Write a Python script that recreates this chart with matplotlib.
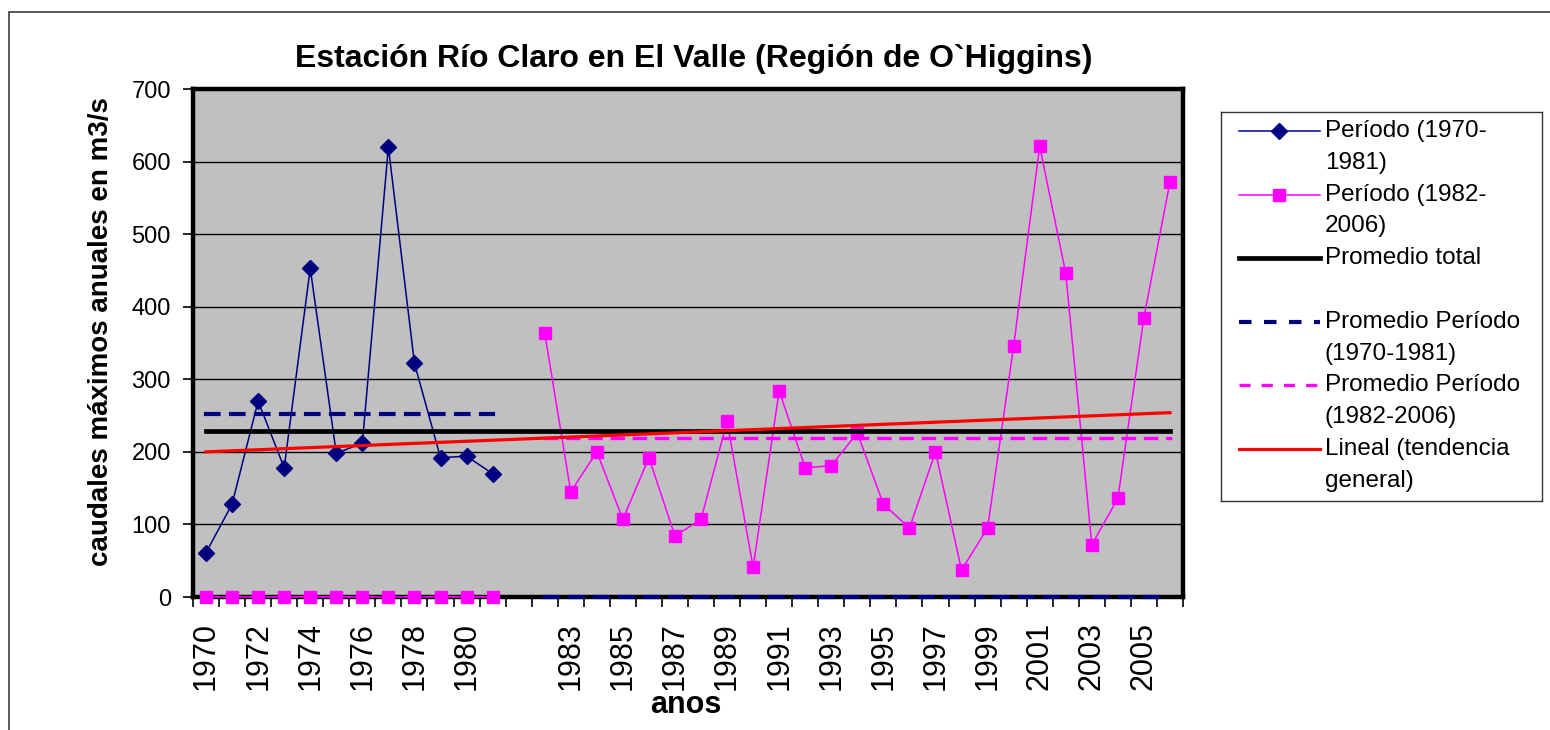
import numpy as np
import matplotlib.pyplot as plt
from matplotlib.lines import Line2D
from matplotlib.patches import Rectangle

plt.rcParams['font.family'] = ['Liberation Sans', 'DejaVu Sans']
plt.rcParams['lines.scale_dashes'] = False

# categorias del eje x (hay una celda vacia entre 1981 y 1982)
categorias = [str(a) for a in range(1970, 1982)] + [''] + [str(a) for a in range(1982, 2007)]

# caudales maximos anuales (m3/s)
periodo_1 = [61, 128, 270, 178, 453, 198, 212, 620, 322, 192, 194, 170]
periodo_2 = [364, 145, 200, 107, 192, 84, 107, 242, 41, 284, 178, 181, 226,
             128, 95, 200, 37, 95, 346, 621, 446, 72, 136, 385, 572]
# celdas vacias que excel dibuja como cero
periodo_2_antes = [0] * 12
promedio_1_despues = [0] * 25

prom_total = 229
prom_p1 = 252
prom_p2 = 219
tendencia = [200, 254]   # inicio y fin de la recta de tendencia lineal

n = len(categorias)
x = np.arange(n)
nan = np.nan

serie_1 = periodo_1 + [nan] * (n - len(periodo_1))
serie_2 = periodo_2_antes + [nan] + periodo_2
media_1 = [prom_p1] * len(periodo_1) + [nan] + promedio_1_despues
media_2 = periodo_2_antes + [nan] + [prom_p2] * len(periodo_2)
media_t = [prom_total] * n

W, H = 1550, 730
fig = plt.figure(figsize=(W / 100, H / 100), dpi=100)
fig.patch.set_facecolor('white')

ax = fig.add_axes([193 / W, 1 - 597 / H, (1183 - 193) / W, (597 - 89) / H])
ax.set_facecolor('#C0C0C0')

ax.plot(x, serie_1, color='#000080', lw=1.1, marker='D', ms=8, zorder=3, clip_on=False)
ax.plot(x, serie_2, color='#FF00FF', lw=1.1, marker='s', ms=8.5, zorder=3, clip_on=False)
ax.plot(x, media_t, color='black', lw=3.4, zorder=4, solid_capstyle='projecting')
ax.plot(x, media_1, color='#000080', lw=3, dashes=(9, 9), zorder=6, clip_on=False,
        dash_capstyle='projecting')
ax.plot(x, media_2, color='#FF00FF', lw=2.4, dashes=(8, 8), zorder=4,
        dash_capstyle='projecting')
ax.plot([x[0], x[-1]], tendencia, color='#FF0000', lw=2.3, zorder=5)

ax.set_xlim(-0.5, n - 0.5)
ax.set_ylim(0, 700)
ax.set_yticks(np.arange(0, 701, 100))
ax.yaxis.grid(True, color='black', lw=1.0)
ax.set_axisbelow(True)

# marcas entre categorias, etiquetas cada dos categorias
ax.set_xticks(np.arange(-0.5, n, 1))
ax.set_xticklabels([])
ax.set_xticks(x[::2], minor=True)
ax.set_xticklabels(categorias[::2], minor=True, rotation=90, fontsize=22)
ax.tick_params(axis='x', which='major', length=7, width=1.2, direction='out')
ax.tick_params(axis='x', which='minor', length=0, pad=18)
ax.tick_params(axis='y', length=7, width=1.2, pad=9, labelsize=17)

for s in ax.spines.values():
    s.set_linewidth(3.2)
    s.set_color('black')

fig.text(694 / W, 1 - 67 / H, 'Estación Río Claro en El Valle (Región de O`Higgins)',
         ha='center', va='baseline', fontsize=23, fontweight='bold')
fig.text(101 / W, 1 - 332 / H, 'caudales máximos anuales en m3/s', rotation=90,
         ha='center', va='center', fontsize=20, fontweight='bold')
fig.text(686 / W, 1 - 713 / H, 'anos', ha='center', va='baseline',
         fontsize=22, fontweight='bold')

# leyenda
lax = fig.add_axes([1221 / W, 1 - 501 / H, 321 / W, 389 / H])
lax.set_xlim(1221, 1542)
lax.set_ylim(501, 112)
lax.set_xticks([])
lax.set_yticks([])
for s in lax.spines.values():
    s.set_linewidth(1.0)
    s.set_color('#333333')

entradas = [
    (['Período (1970-', '1981)'], dict(color='#000080', lw=1.1), 'D', 8),
    (['Período (1982-', '2006)'], dict(color='#FF00FF', lw=1.1), 's', 8.5),
    (['Promedio total', ''], dict(color='black', lw=3.4), None, 0),
    (['Promedio Período', '(1970-1981)'], dict(color='#000080', lw=3, dashes=(9, 9)), None, 0),
    (['Promedio Período', '(1982-2006)'], dict(color='#FF00FF', lw=2.4, dashes=(8, 8)), None, 0),
    (['Lineal (tendencia', 'general)'], dict(color='#FF0000', lw=2.3), None, 0),
]
paso = 31.8
fila = 0
for textos, estilo, marca, tam in entradas:
    y0 = 131 + paso * fila
    lax.add_line(Line2D([1239, 1320], [y0, y0], **estilo))
    if marca:
        lax.plot([1279], [y0], linestyle='none', marker=marca, ms=tam,
                 color=estilo['color'])
    for k, t in enumerate(textos):
        lax.text(1325, y0 + paso * k, t, ha='left', va='center', fontsize=17.5)
    fila += 2

# marco exterior del grafico
fig.add_artist(Rectangle((9 / W, -0.05), 2, 1 - 12 / H + 0.05, transform=fig.transFigure,
                         fill=False, edgecolor='#404040', lw=1.2, clip_on=False))

fig.savefig('out.png', dpi=100)
